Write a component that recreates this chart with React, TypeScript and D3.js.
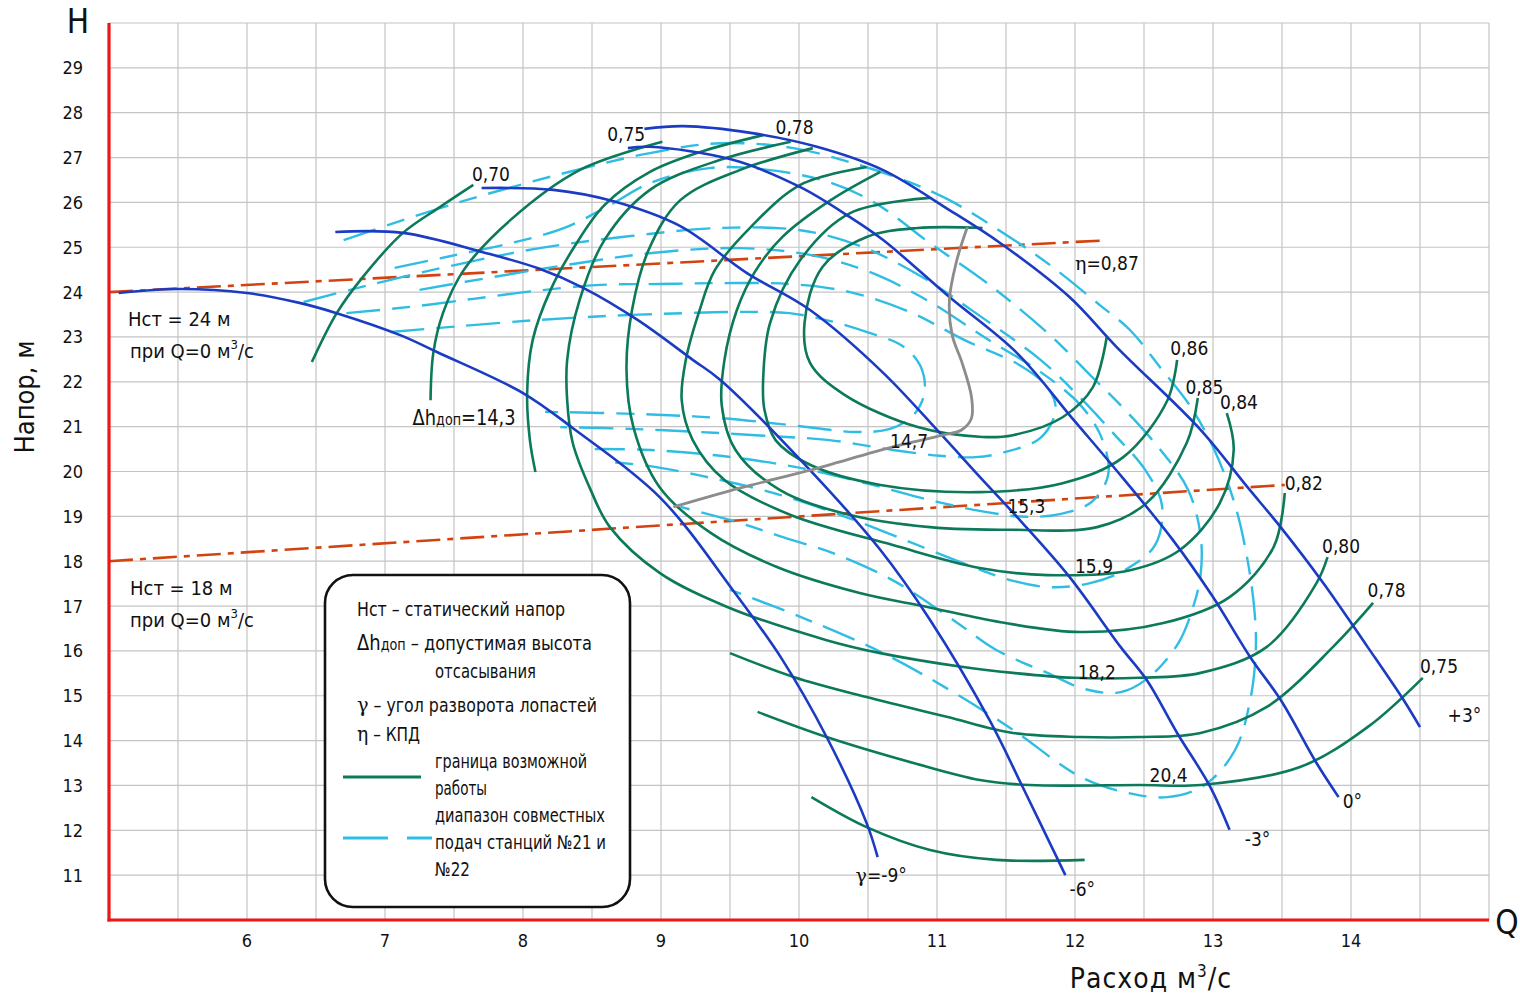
import React from "react";
import * as d3 from "d3";

const W = 1520;
const HT = 994;
const FONT = "'Liberation Sans Narrow', 'DejaVu Sans Condensed', 'DejaVu Sans', sans-serif";

// axis ticks
const qTicks = [6, 7, 8, 9, 10, 11, 12, 13, 14];
const hTicks = [11, 12, 13, 14, 15, 16, 17, 18, 19, 20, 21, 22, 23, 24, 25, 26, 27, 28, 29];
const qGrid = d3.range(5.5, 15.01, 0.5);
const hGrid = d3.range(11, 30.01, 1);

// pump characteristics H(Q) for blade angles γ  [Q, H]
const gammaM9 = [[5.07,23.98],[5.50,24.07],[6.00,23.98],[6.38,23.76],[6.65,23.53],[7.11,23.04],[7.38,22.66],[8.00,21.75],[8.36,20.97],[8.99,19.43],[9.52,17.36],[9.88,15.80],[10.20,14.08],[10.49,12.16],[10.57,11.40]];
const gammaM6 = [[6.64,25.34],[7.13,25.32],[7.71,24.89],[8.12,24.52],[8.44,24.09],[8.83,23.38],[9.23,22.49],[9.43,22.04],[10.08,20.03],[10.59,18.25],[10.95,16.69],[11.38,14.46],[11.62,12.97],[11.93,11.00]];
const gammaM3 = [[7.70,26.32],[8.22,26.28],[8.65,26.03],[9.14,25.47],[9.62,24.43],[10.08,23.60],[10.61,22.20],[11.02,20.86],[11.31,19.88],[11.62,18.85],[11.96,17.65],[12.33,16.09],[12.52,15.35],[12.74,14.17],[12.98,12.97],[13.12,12.01]];
const gamma0 = [[8.76,27.21],[8.92,27.24],[9.52,26.95],[10.01,26.34],[10.37,25.67],[10.61,25.16],[11.09,23.89],[11.58,22.64],[11.99,21.15],[12.28,20.10],[12.71,18.47],[13.00,17.20],[13.27,15.86],[13.49,14.91],[13.75,13.50],[13.91,12.74]];
const gammaP3 = [[8.88,27.64],[9.16,27.70],[9.65,27.55],[10.13,27.24],[10.61,26.72],[11.09,25.83],[11.46,25.09],[11.96,23.89],[12.30,22.78],[12.91,20.93],[13.25,19.65],[13.49,18.76],[13.80,17.51],[14.12,16.09],[14.38,14.91],[14.50,14.30]];

// efficiency contours η
const eta070 = [[7.64,26.39],[7.40,25.90],[7.13,25.32],[6.84,24.34],[6.65,23.53],[6.47,22.44]];
const eta075Top = [[9.01,27.35],[8.41,26.72],[7.91,25.61],[7.57,24.49],[7.42,23.53],[7.35,22.64],[7.33,21.59]];
const eta078Top = [[9.74,27.50],[9.28,27.12],[8.92,26.68],[8.59,25.94],[8.38,25.05],[8.20,24.05],[8.07,22.93],[8.03,21.75],[8.05,20.70],[8.09,19.99]];
const eta080 = [[9.94,27.35],[9.43,26.95],[8.92,26.28],[8.59,25.16],[8.41,23.82],[8.32,22.49],[8.32,21.59],[8.36,20.64],[8.49,19.59],[8.63,18.76],[8.99,17.74],[9.48,16.98],[10.20,16.24],[10.59,15.95],[11.19,15.64],[11.55,15.51],[11.99,15.40],[12.47,15.40],[12.91,15.51],[13.39,16.09],[13.75,17.51],[13.83,18.09]];
const eta082 = [[10.10,27.21],[9.57,26.72],[9.14,26.05],[8.91,24.94],[8.79,23.60],[8.75,22.26],[8.80,20.99],[8.99,19.65],[9.36,18.63],[9.84,17.87],[10.44,17.29],[10.93,16.98],[11.46,16.64],[12.04,16.42],[12.64,16.62],[13.12,17.20],[13.44,18.32],[13.52,19.52]];
const eta084 = [[10.49,26.79],[10.01,26.39],[9.65,25.45],[9.39,24.49],[9.28,23.60],[9.18,22.49],[9.15,21.59],[9.23,20.70],[9.46,19.81],[9.94,19.03],[10.68,18.36],[11.31,17.85],[11.80,17.69],[12.40,17.80],[12.76,18.25],[13.05,19.30],[13.15,20.48],[13.10,21.30]];
const eta085 = [[10.59,26.68],[10.23,26.05],[9.88,25.23],[9.68,24.45],[9.55,23.60],[9.46,22.49],[9.44,21.48],[9.54,20.48],[9.86,19.59],[10.37,19.03],[10.95,18.76],[11.55,18.70],[12.16,18.76],[12.52,19.30],[12.81,20.64],[12.89,21.64]];
const eta086 = [[10.95,26.10],[10.37,25.76],[10.01,24.72],[9.79,23.31],[9.74,22.04],[9.75,21.37],[9.83,20.70],[10.08,20.15],[10.59,19.70],[11.31,19.54],[11.91,19.74],[12.35,20.32],[12.67,21.59],[12.74,22.49]];
const eta087 = [[11.33,25.43],[10.86,25.43],[10.49,25.23],[10.17,24.56],[10.04,23.31],[10.08,22.42],[10.33,21.71],[10.86,20.99],[11.33,20.77],[11.55,20.81],[11.91,21.21],[12.13,21.88],[12.23,23.00]];
const eta078Low = [[9.50,15.95],[9.96,15.42],[10.49,14.97],[11.07,14.53],[11.55,14.17],[12.04,14.08],[12.47,14.08],[12.91,14.17],[13.39,14.75],[13.87,16.09],[14.16,17.07]];
const eta075Low = [[9.70,14.64],[10.20,14.08],[10.83,13.50],[11.31,13.12],[11.67,13.01],[12.47,13.01],[12.91,13.01],[13.63,13.41],[14.12,14.30],[14.52,15.40]];
const etaBottom = [[10.09,12.74],[10.49,12.07],[10.95,11.56],[11.43,11.34],[12.07,11.34]];

// joint-feed ranges of stations 21 and 22 (dashed)
const feedA = [[7.04,23.11],[7.54,23.24],[8.12,23.38],[8.63,23.47],[9.16,23.53],[9.59,23.56],[9.93,23.53],[10.22,23.36],[10.51,23.09],[10.75,22.80],[10.88,22.35],[10.91,21.77],[10.83,21.26],[10.66,20.95],[10.41,20.88],[10.01,21.01],[9.43,21.19],[8.85,21.28],[8.16,21.33]];
const feedB = [[6.72,23.53],[7.18,23.67],[7.64,23.85],[8.07,24.02],[8.56,24.16],[8.99,24.18],[9.43,24.20],[9.93,24.18],[10.37,24.00],[10.80,23.56],[11.20,22.93],[11.60,22.37],[11.80,21.88],[11.86,21.37],[11.75,20.75],[11.49,20.43],[11.28,20.32],[11.02,20.35],[10.68,20.48],[10.22,20.70],[9.79,20.79],[9.28,20.88],[8.78,20.95],[8.27,20.99]];
const feedC = [[7.25,24.05],[7.83,24.36],[8.41,24.65],[8.99,24.89],[9.57,24.98],[10.08,24.83],[10.51,24.45],[10.95,23.78],[11.35,22.98],[11.75,22.22],[12.04,21.48],[12.20,20.70],[12.24,19.92],[12.12,19.32],[11.89,19.05],[11.64,18.99],[11.35,19.10],[10.95,19.36],[10.51,19.72],[10.01,20.08],[9.43,20.35],[8.92,20.48],[8.52,20.50]];
const feedD = [[6.41,23.78],[6.89,24.16],[7.47,24.58],[8.12,24.98],[8.78,25.25],[9.43,25.43],[10.01,25.38],[10.44,25.03],[10.88,24.36],[11.31,23.47],[11.75,22.49],[12.04,21.64],[12.29,20.81],[12.51,20.03],[12.63,19.25],[12.58,18.36],[12.36,17.80],[12.11,17.51],[11.82,17.42],[11.53,17.58],[11.17,17.98],[10.73,18.52],[10.30,19.03],[9.86,19.48],[9.36,19.86],[8.92,20.12],[8.63,20.21]];
const feedE = [[7.07,24.54],[7.47,24.80],[7.91,25.09],[8.30,25.43],[8.63,25.94],[8.92,26.43],[9.36,26.77],[9.79,26.72],[10.22,26.45],[10.55,25.99],[10.95,25.09],[11.38,24.16],[11.82,23.04],[12.11,22.15],[12.33,21.48],[12.62,20.48],[12.82,19.59],[12.91,18.58],[12.91,17.69],[12.86,17.02],[12.75,16.18],[12.54,15.42],[12.33,15.08],[12.07,15.15],[11.80,15.51],[11.43,16.02],[11.14,16.64],[10.70,17.54],[10.28,18.14],[9.86,18.56],[9.52,18.90],[9.14,19.21]];
const feedF = [[6.70,25.16],[7.47,25.94],[8.27,26.63],[8.92,27.10],[9.43,27.32],[9.96,27.21],[10.44,26.83],[10.80,26.45],[11.09,26.05],[11.48,25.32],[11.82,24.60],[12.18,23.71],[12.40,23.15],[12.62,22.31],[12.83,21.48],[13.01,20.48],[13.16,19.25],[13.25,18.03],[13.30,16.91],[13.31,16.02],[13.27,14.91],[13.16,13.79],[12.94,13.01],[12.67,12.74],[12.36,12.85],[12.04,13.19],[11.55,14.24],[11.09,15.13],[10.59,15.98],[10.01,16.76],[9.50,17.36]];

// optimum operating line
const optimumLine = [[9.09,19.21],[9.57,19.63],[10.08,20.03],[10.68,20.55],[11.04,20.81],[11.18,20.93],[11.25,21.19],[11.25,21.66],[11.18,22.44],[11.11,23.04],[11.09,23.82],[11.14,24.67],[11.22,25.45]];

// static head lines (Hст = 24 м and 18 м at Q = 0)
const staticUpper = [[5, 24.0], [12.2, 25.15]];
const staticLower = [[5, 18.0], [13.52, 19.7]];

// curve labels [text, Q, H]
const etaLabels = [
  ["0,70", 7.63, 26.48], ["0,75", 8.61, 27.37], ["0,78", 9.83, 27.53],
  ["0,86", 12.69, 22.60], ["0,85", 12.80, 21.73], ["0,84", 13.05, 21.39],
  ["0,82", 13.52, 19.59], ["0,80", 13.79, 18.18], ["0,78", 14.12, 17.20], ["0,75", 14.50, 15.51],
];
const feedLabels = [
  ["14,7", 10.66, 20.52], ["15,3", 11.51, 19.07], ["15,9", 12.0, 17.74], ["18,2", 12.02, 15.37], ["20,4", 12.54, 13.08],
];
const gammaLabels = [
  ["-6°", 11.96, 10.53], ["-3°", 13.23, 11.65], ["0°", 13.94, 12.50], ["+3°", 14.70, 14.41],
];

const BLUE = "#1b3cc2";
const GREEN = "#0c7a5a";
const CYAN = "#2fbde4";
const GRAY = "#8c8c8c";
const ORANGE = "#d2430f";
const RED = "#ee1515";
const SERIF = "'DejaVu Serif', serif";

export default function App() {
  const x = d3.scaleLinear().domain([5, 15]).range([109, 1489]);
  const y = d3.scaleLinear().domain([10, 30]).range([920, 23]);
  const smooth = d3
    .line<number[]>()
    .x((d) => x(d[0]))
    .y((d) => y(d[1]))
    .curve(d3.curveCatmullRom.alpha(0.5));
  const straight = d3
    .line<number[]>()
    .x((d) => x(d[0]))
    .y((d) => y(d[1]));

  const gammaCurves = [gammaM9, gammaM6, gammaM3, gamma0, gammaP3];
  const etaCurves = [eta070, eta075Top, eta078Top, eta080, eta082, eta084, eta085, eta086, eta087, eta078Low, eta075Low, etaBottom];
  const feedCurves = [feedA, feedB, feedC, feedD, feedE, feedF];

  const fit = { lengthAdjust: "spacingAndGlyphs" } as any;

  return (
    <svg
      width={W}
      height={HT}
      viewBox={`0 0 ${W} ${HT}`}
      style={{ position: "fixed", left: 0, top: 0, background: "#fff" }}
      fontFamily={FONT}
    >
      <rect x={0} y={0} width={W} height={HT} fill="#fff" />

      {/* grid */}
      <g stroke="#c4c4c4" strokeWidth={1.2}>
        {qGrid.map((q) => (
          <line key={`vq${q}`} x1={x(q)} x2={x(q)} y1={y(10)} y2={y(30)} />
        ))}
        {hGrid.map((h) => (
          <line key={`hh${h}`} x1={x(5)} x2={x(15)} y1={y(h)} y2={y(h)} />
        ))}
      </g>

      {/* tick labels */}
      <g fontSize={18} fill="#111">
        {hTicks.map((h) => (
          <text key={`ht${h}`} x={83} y={y(h)} dy="0.36em" textAnchor="end">
            {h}
          </text>
        ))}
        {qTicks.map((q) => (
          <text key={`qt${q}`} x={x(q)} y={947} textAnchor="middle">
            {q}
          </text>
        ))}
      </g>

      {/* static head lines */}
      <g fill="none" stroke={ORANGE} strokeWidth={2.6} strokeDasharray="24,7,6,7">
        <path d={straight(staticUpper) || ""} />
        <path d={straight(staticLower) || ""} />
      </g>

      {/* joint feed ranges */}
      <g fill="none" stroke={CYAN} strokeWidth={2.4} strokeDasharray="34,12,18,12">
        {feedCurves.map((c, i) => (
          <path key={`f${i}`} d={smooth(c) || ""} />
        ))}
      </g>

      {/* efficiency contours */}
      <g fill="none" stroke={GREEN} strokeWidth={2.6}>
        {etaCurves.map((c, i) => (
          <path key={`e${i}`} d={smooth(c) || ""} />
        ))}
      </g>

      {/* blade angle characteristics */}
      <g fill="none" stroke={BLUE} strokeWidth={2.6}>
        {gammaCurves.map((c, i) => (
          <path key={`g${i}`} d={smooth(c) || ""} />
        ))}
      </g>

      {/* optimum line */}
      <path d={smooth(optimumLine) || ""} fill="none" stroke={GRAY} strokeWidth={2.8} />

      {/* axes */}
      <g stroke={RED} strokeWidth={3.2}>
        <line x1={x(5)} x2={x(5)} y1={y(30)} y2={y(10) + 1.5} />
        <line x1={x(5) - 1.5} x2={x(15)} y1={y(10)} y2={y(10)} />
      </g>
      <text x={78} y={33} fontSize={33} textAnchor="middle" fill="#111">H</text>
      <text x={1507} y={934} fontSize={33} textAnchor="middle" fill="#111">Q</text>
      <text transform={`translate(34,397) rotate(-90)`} fontSize={27} textAnchor="middle" fill="#111">
        Напор, м
      </text>
      <text x={1151} y={988} fontSize={28} textAnchor="middle" fill="#111" letterSpacing={1}>
        Расход м<tspan dy={-11} fontSize={17}>3</tspan>
        <tspan dy={11}>/с</tspan>
      </text>

      {/* static head notes */}
      <g fontSize={20} fill="#111">
        <text x={128} y={326}>Нст = 24  м</text>
        <text x={130} y={358}>
          при  Q=0  м<tspan dy={-9} fontSize={13}>3</tspan>
          <tspan dy={9}>/с</tspan>
        </text>
        <text x={130} y={595}>Нст = 18  м</text>
        <text x={130} y={627}>
          при  Q=0  м<tspan dy={-9} fontSize={13}>3</tspan>
          <tspan dy={9}>/с</tspan>
        </text>
      </g>

      {/* curve labels */}
      <g fontSize={19} fill="#111">
        {etaLabels.map(([t, q, h], i) => (
          <text key={`el${i}`} x={x(q as number)} y={y(h as number)}>
            {t}
          </text>
        ))}
        <text x={x(12.0)} y={y(24.49)}>
          <tspan fontFamily={SERIF}>η</tspan>=0,87
        </text>
        {feedLabels.map(([t, q, h], i) => (
          <text key={`fl${i}`} x={x(q as number)} y={y(h as number)}>
            {t}
          </text>
        ))}
        {gammaLabels.map(([t, q, h], i) => (
          <text key={`gl${i}`} x={x(q as number)} y={y(h as number)}>
            {t}
          </text>
        ))}
        <text x={x(10.41)} y={y(10.85)}>
          <tspan fontFamily={SERIF}>γ</tspan>=-9°
        </text>
        <text x={x(7.2)} y={y(21.04)} fontSize={21} textLength={103} {...fit}>
          Δh<tspan fontSize={15}>доп</tspan>=14,3
        </text>
      </g>

      {/* legend */}
      <rect x={325} y={575} width={305} height={332} rx={28} ry={28} fill="#fff" stroke="#111" strokeWidth={2.6} />
      <g fontSize={19} fill="#111">
        <text x={357} y={616} textLength={208} {...fit}>Нст – статический напор</text>
        <text x={357} y={650} textLength={235} {...fit}>
          <tspan fontSize={21}>Δh</tspan>
          <tspan fontSize={15}>доп</tspan> – допустимая высота
        </text>
        <text x={435} y={678} textLength={101} {...fit}>отсасывания</text>
        <text x={357} y={712} textLength={240} {...fit}>
          <tspan fontFamily={SERIF} fontSize={21}>γ</tspan> – угол разворота лопастей
        </text>
        <text x={357} y={741} textLength={63} {...fit}>
          <tspan fontFamily={SERIF} fontSize={21}>η</tspan> – КПД
        </text>
        <text x={435} y={768} textLength={152} {...fit}>граница возможной</text>
        <text x={435} y={795} textLength={52} {...fit}>работы</text>
        <text x={435} y={822} textLength={170} {...fit}>диапазон совместных</text>
        <text x={435} y={849} textLength={171} {...fit}>подач станций №21 и</text>
        <text x={435} y={876} textLength={35} {...fit}>№22</text>
      </g>
      <line x1={343} x2={421} y1={777} y2={777} stroke={GREEN} strokeWidth={2.8} />
      <line x1={343} x2={432} y1={838} y2={838} stroke={CYAN} strokeWidth={2.8} strokeDasharray="45,19,25" />
    </svg>
  );
}
